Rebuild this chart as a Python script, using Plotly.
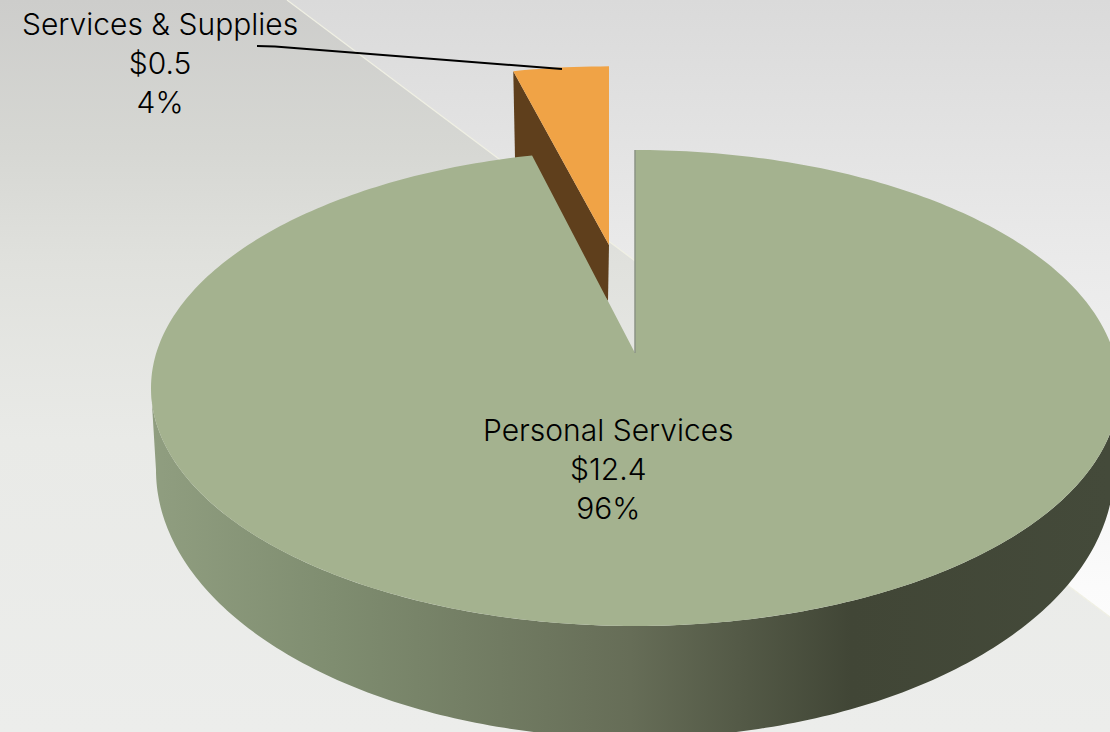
import numpy as np
import plotly.graph_objects as go

# ---- data ----
categories = ["Personal Services", "Services & Supplies"]
values = [12.4, 0.5]
percent_labels = ["96%", "4%"]

# ---- picture geometry (pixel space of the axes) ----
W, H = 1110, 732
CX, CY, RX, RY = 635, 388, 484, 238       # top rim
BY, BRX, BRY = 470, 479, 268              # lower rim of the wall
APEX = (635, 353)
FORESHORTEN = 0.88
EXPL_APEX = (609, 245)
EXPL_SX, EXPL_SY = 0.93, 0.88
EXPL_WALL = 56
LABEL_POS = {"Personal Services": (608, 469),
             "Services & Supplies": (160, 63)}
LEADER_X = [257, 275, 562]
LEADER_Y = [46, 46.5, 69]
DIAG_X = [287, 1110]
DIAG_Y = [0, 617]

FONT = "Inter"
FSIZE = 30
TXT = "#000000"


def rim(t_deg, cy=CY, rx=RX, ry=RY):
    t = np.radians(t_deg)
    return CX + rx * np.sin(t), cy - ry * np.cos(t)


total = sum(values)
span = values[1] / total * 360 * FORESHORTEN
fig = go.Figure()


def poly(x, y, **kw):
    fig.add_trace(go.Scatter(x=list(x), y=list(y), mode="none", fill="toself",
                             hoverinfo="skip", showlegend=False, **kw))


def vgrad(stops):
    return dict(type="vertical", colorscale=stops, start=0, stop=H)


# background, lower-left zone
poly([0, W, W, 0], [0, 0, H, H],
     fillgradient=vgrad([[0, "#cdcdcb"], [0.2, "#d6d7d3"], [0.36, "#e0e1dd"],
                         [0.6, "#e9eae7"], [1, "#ecedeb"]]))
# background, upper-right zone
poly([DIAG_X[0], W, W], [0, 0, DIAG_Y[1]],
     fillgradient=vgrad([[0, "#dadada"], [0.35, "#eaeaea"], [0.8, "#fbfbfb"], [1, "#ffffff"]]))
fig.add_trace(go.Scatter(x=DIAG_X, y=DIAG_Y, mode="lines", hoverinfo="skip", showlegend=False,
                         line=dict(color="#f0f0e4", width=1.2)))

# exploded slice: wall then top
lx, ly = rim(360 - span)
ex = EXPL_APEX[0] + EXPL_SX * (lx - APEX[0])
ey = EXPL_APEX[1] + EXPL_SY * (ly - APEX[1])
poly([ex, EXPL_APEX[0], EXPL_APEX[0] - 1, ex + 2],
     [ey, EXPL_APEX[1], EXPL_APEX[1] + EXPL_WALL, ey + 100],
     fillcolor="#5f3f1c")
ts = np.linspace(360 - span, 360, 12)
ox, oy = rim(ts)
poly([EXPL_APEX[0]] + list(EXPL_APEX[0] + EXPL_SX * (ox - APEX[0])),
     [EXPL_APEX[1]] + list(EXPL_APEX[1] + EXPL_SY * (oy - APEX[1])),
     fillcolor="#f0a346")

# main slice: wall
ts = np.linspace(90, 270, 200)
tx, ty = rim(ts)
bx, by = rim(ts[::-1], cy=BY, rx=BRX, ry=BRY)
poly(list(tx) + list(bx), list(ty) + list(by),
     fillgradient=dict(type="horizontal", start=151, stop=1110,
                       colorscale=[[0, "#909e80"], [0.19, "#7f8d70"], [0.5, "#666d57"],
                                   [0.73, "#414636"], [1, "#444a3a"]]))
# main slice: top
ts = np.linspace(0, 360 - span, 400)
mx, my = rim(ts)
poly([APEX[0]] + list(mx), [APEX[1]] + list(my), fillcolor="#a4b28f")
fig.add_trace(go.Scatter(x=[APEX[0], mx[0]], y=[APEX[1], my[0]], mode="lines", hoverinfo="skip",
                         showlegend=False, line=dict(color="#8b9384", width=1.5)))

# leader
fig.add_trace(go.Scatter(x=LEADER_X, y=LEADER_Y, mode="lines", hoverinfo="skip", showlegend=False,
                         line=dict(color="#000000", width=2)))

# labels
for name, val, pct in zip(categories, values, percent_labels):
    px, py = LABEL_POS[name]
    fig.add_annotation(x=px, y=py, text=f"{name}<br>${val:.1f}<br>{pct}", showarrow=False,
                       xanchor="center", yanchor="middle", align="center",
                       font=dict(family=FONT, size=FSIZE, color=TXT, weight=300))

fig.update_layout(width=W, height=H, margin=dict(l=0, r=0, t=0, b=0), showlegend=False,
                  paper_bgcolor="#e6e6e6", plot_bgcolor="#e6e6e6",
                  xaxis=dict(range=[0, W], visible=False, fixedrange=True),
                  yaxis=dict(range=[H, 0], visible=False, fixedrange=True))
fig.write_html("out.html", config={"displayModeBar": False},
               post_script="document.body.style.margin='0';document.body.style.overflow='hidden';")
